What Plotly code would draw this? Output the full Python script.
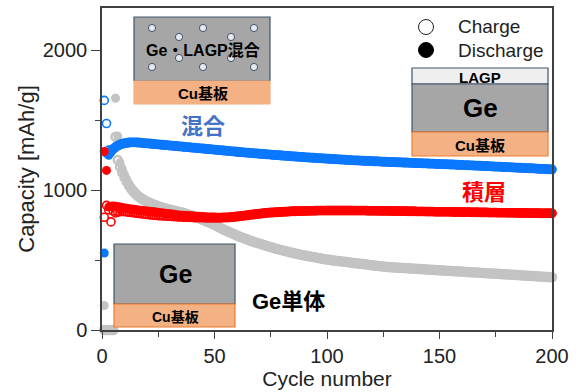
import plotly.graph_objects as go

# ---------------- data: capacity [mAh/g] per cycle ----------------
cycles = list(range(1, 201))

# Ge / LAGP mixed electrode (blue)
mix_discharge = [
    550, 1262, 1248, 1270, 1288, 1302, 1313, 1321, 1327, 1331,
    1334, 1336, 1338, 1337, 1338, 1336, 1335, 1333, 1332, 1330,
    1329, 1327, 1326, 1324, 1323, 1321, 1320, 1318, 1317, 1315,
    1314, 1312, 1311, 1309, 1308, 1306, 1305, 1303, 1302, 1300,
    1299, 1297, 1296, 1294, 1293, 1291, 1290, 1288, 1287, 1285,
    1284, 1282, 1281, 1279, 1278, 1276, 1275, 1273, 1272, 1270,
    1269, 1267, 1266, 1264, 1263, 1262, 1260, 1259, 1258, 1256,
    1255, 1254, 1252, 1251, 1250, 1248, 1247, 1246, 1245, 1243,
    1242, 1241, 1240, 1238, 1237, 1236, 1235, 1234, 1233, 1231,
    1230, 1229, 1228, 1227, 1226, 1225, 1224, 1223, 1222, 1221,
    1220, 1219, 1218, 1217, 1216, 1215, 1214, 1213, 1212, 1211,
    1210, 1209, 1209, 1208, 1207, 1206, 1205, 1205, 1204, 1203,
    1202, 1202, 1201, 1200, 1199, 1199, 1198, 1197, 1197, 1196,
    1195, 1195, 1194, 1193, 1193, 1192, 1191, 1191, 1190, 1189,
    1189, 1188, 1187, 1187, 1186, 1185, 1185, 1184, 1183, 1183,
    1182, 1181, 1181, 1180, 1179, 1179, 1178, 1177, 1176, 1176,
    1175, 1174, 1174, 1173, 1172, 1171, 1171, 1170, 1169, 1168,
    1168, 1167, 1166, 1165, 1164, 1164, 1163, 1162, 1161, 1160,
    1160, 1159, 1158, 1157, 1156, 1156, 1155, 1154, 1153, 1152,
    1152, 1151, 1150, 1149, 1148, 1148, 1147, 1146, 1145, 1144,
]
mix_charge = [
    1640, 1475, 1285, 1281, 1295, 1308, 1318, 1326, 1331, 1335,
    1338, 1340, 1341, 1341, 1341, 1340, 1339, 1337, 1336, 1334,
    1333, 1331, 1330, 1328, 1327, 1325, 1324, 1322, 1321, 1319,
    1318, 1316, 1315, 1313, 1312, 1310, 1309, 1307, 1306, 1304,
    1303, 1301, 1300, 1298, 1297, 1295, 1294, 1292, 1291, 1289,
    1288, 1286, 1285, 1283, 1282, 1280, 1279, 1277, 1276, 1274,
    1273, 1271, 1270, 1268, 1267, 1266, 1264, 1263, 1262, 1260,
    1259, 1258, 1256, 1255, 1254, 1252, 1251, 1250, 1249, 1247,
    1246, 1245, 1244, 1242, 1241, 1240, 1239, 1238, 1237, 1235,
    1234, 1233, 1232, 1231, 1230, 1229, 1228, 1227, 1226, 1225,
    1224, 1223, 1222, 1221, 1220, 1219, 1218, 1217, 1216, 1215,
    1214, 1213, 1213, 1212, 1211, 1210, 1209, 1209, 1208, 1207,
    1206, 1206, 1205, 1204, 1203, 1203, 1202, 1201, 1201, 1200,
    1199, 1199, 1198, 1197, 1197, 1196, 1195, 1195, 1194, 1193,
    1193, 1192, 1191, 1191, 1190, 1189, 1189, 1188, 1187, 1187,
    1186, 1185, 1185, 1184, 1183, 1183, 1182, 1181, 1180, 1180,
    1179, 1178, 1178, 1177, 1176, 1175, 1175, 1174, 1173, 1172,
    1172, 1171, 1170, 1169, 1168, 1168, 1167, 1166, 1165, 1164,
    1164, 1163, 1162, 1161, 1160, 1160, 1159, 1158, 1157, 1156,
    1156, 1155, 1154, 1153, 1152, 1152, 1151, 1150, 1149, 1148,
]

# LAGP / Ge layered electrode (red)
layer_discharge = [
    1275, 1140, 878, 884, 886, 884, 881, 878, 875, 872,
    869, 866, 864, 862, 860, 858, 856, 854, 852, 850,
    848, 846, 844, 842, 840, 838, 836, 834, 832, 830,
    828, 826, 824, 822, 820, 819, 818, 817, 816, 815,
    814, 813, 812, 811, 810, 809, 808, 808, 807, 807,
    806, 806, 806, 807, 807, 808, 809, 810, 812, 814,
    816, 818, 820, 822, 824, 826, 828, 830, 832, 834,
    836, 838, 840, 841, 842, 843, 844, 845, 846, 847,
    848, 849, 850, 850, 851, 851, 852, 852, 853, 853,
    853, 854, 854, 854, 855, 855, 855, 855, 856, 856,
    856, 856, 856, 856, 856, 856, 856, 856, 856, 856,
    856, 856, 855, 855, 855, 855, 855, 855, 854, 854,
    854, 854, 854, 853, 853, 853, 853, 852, 852, 852,
    852, 851, 851, 851, 851, 850, 850, 850, 850, 849,
    849, 849, 849, 848, 848, 848, 848, 847, 847, 847,
    847, 846, 846, 846, 846, 845, 845, 845, 845, 844,
    844, 844, 844, 843, 843, 843, 843, 842, 842, 842,
    842, 841, 841, 841, 841, 840, 840, 840, 840, 839,
    839, 839, 839, 839, 838, 838, 838, 838, 838, 837,
    837, 837, 837, 837, 836, 836, 836, 836, 836, 836,
]
layer_charge = [
    805, 890, 858, 772, 850, 836, 842, 845, 846, 845,
    843, 841, 839, 837, 835, 833, 831, 829, 827, 825,
    823, 821, 820, 818, 817, 816, 815, 814, 813, 812,
    811, 810, 809, 808, 807, 806, 805, 805, 804, 804,
    803, 803, 802, 802, 802, 801, 801, 801, 801, 801,
    801, 801, 801, 802, 802, 803, 804, 805, 807, 809,
    811, 813, 815, 817, 819, 821, 823, 825, 827, 829,
    831, 833, 835, 836, 837, 838, 839, 840, 841, 842,
    843, 844, 845, 846, 847, 847, 848, 848, 849, 849,
    850, 850, 851, 851, 851, 852, 852, 852, 852, 853,
    853, 853, 853, 853, 853, 853, 853, 853, 853, 853,
    853, 852, 852, 852, 852, 852, 852, 851, 851, 851,
    851, 851, 850, 850, 850, 850, 850, 849, 849, 849,
    849, 848, 848, 848, 848, 847, 847, 847, 847, 846,
    846, 846, 846, 845, 845, 845, 845, 844, 844, 844,
    844, 843, 843, 843, 843, 842, 842, 842, 842, 841,
    841, 841, 841, 840, 840, 840, 840, 839, 839, 839,
    839, 838, 838, 838, 838, 837, 837, 837, 837, 836,
    836, 836, 836, 836, 835, 835, 835, 835, 835, 834,
    834, 834, 834, 834, 833, 833, 833, 833, 833, 833,
]

# Ge only electrode (grey)
ge_discharge = [
    175, 0, 0, 0, 0, 1655, 1385, 1195, 1150, 1110,
    1075, 1045, 1020, 998, 980, 965, 952, 941, 931, 922,
    914, 907, 900, 894, 888, 883, 878, 873, 868, 864,
    860, 856, 852, 848, 844, 840, 835, 830, 825, 820,
    814, 808, 802, 796, 789, 782, 775, 768, 761, 754,
    745, 737, 729, 721, 713, 706, 699, 692, 685, 678,
    671, 665, 659, 653, 647, 641, 635, 629, 624, 619,
    614, 609, 604, 599, 594, 589, 584, 579, 575, 571,
    567, 563, 559, 555, 551, 547, 543, 540, 537, 534,
    531, 528, 525, 522, 519, 516, 513, 510, 507, 504,
    502, 500, 498, 496, 494, 492, 490, 488, 486, 484,
    482, 480, 478, 476, 474, 472, 470, 468, 466, 464,
    462, 460, 458, 456, 454, 452, 451, 450, 449, 448,
    447, 446, 445, 444, 443, 442, 441, 440, 439, 438,
    437, 436, 435, 434, 433, 432, 431, 430, 429, 428,
    427, 426, 425, 424, 423, 422, 421, 420, 419, 418,
    417, 416, 415, 414, 413, 412, 411, 410, 409, 408,
    407, 406, 405, 404, 403, 402, 401, 400, 399, 398,
    397, 396, 395, 394, 393, 392, 391, 390, 389, 388,
    387, 386, 385, 384, 383, 382, 381, 380, 379, 378,
]
ge_charge = [
    0, 0, 0, 0, 0, 1380, 1215, 1165, 1125, 1090,
    1058, 1030, 1007, 987, 970, 956, 944, 933, 924, 916,
    908, 901, 895, 889, 884, 879, 874, 869, 865, 861,
    857, 853, 849, 845, 841, 837, 832, 827, 822, 817,
    811, 805, 799, 793, 786, 779, 772, 765, 758, 751,
    742, 734, 726, 718, 710, 703, 696, 689, 682, 675,
    668, 662, 656, 650, 644, 638, 632, 627, 622, 617,
    612, 607, 602, 597, 592, 587, 582, 578, 574, 570,
    566, 562, 558, 554, 550, 546, 542, 539, 536, 533,
    530, 527, 524, 521, 518, 515, 512, 509, 506, 503,
    501, 499, 497, 495, 493, 491, 489, 487, 485, 483,
    481, 479, 477, 475, 473, 471, 469, 467, 465, 463,
    461, 459, 457, 455, 453, 451, 450, 449, 448, 447,
    446, 445, 444, 443, 442, 441, 440, 439, 438, 437,
    436, 435, 434, 433, 432, 431, 430, 429, 428, 427,
    426, 425, 424, 423, 422, 421, 420, 419, 418, 417,
    416, 415, 414, 413, 412, 411, 410, 409, 408, 407,
    406, 405, 404, 403, 402, 401, 400, 399, 398, 397,
    396, 395, 394, 393, 392, 391, 390, 389, 388, 387,
    386, 385, 384, 383, 382, 381, 380, 379, 378, 377,
]

x_ticks = [0, 50, 100, 150, 200]
y_ticks = [0, 1000, 2000]

BLUE = "#0a78ff"
RED = "#ff0000"
GREY = "#c3c3c3"
LABEL_BLUE = "#4472c4"
FONT = "Liberation Sans, Arial, Noto Sans CJK JP, sans-serif"
JFONT = "Liberation Sans, Noto Sans CJK JP, sans-serif"

W, H = 582, 392
L, R, T, B = 102, 552, 8, 330   # plot-area edges in pixels


def px(x):
    return (x - L) / (R - L)


def py(y):
    return (B - y) / (B - T)


fig = go.Figure()


def add_pair(charge, discharge, color, open_width):
    fig.add_trace(go.Scatter(
        x=cycles, y=charge, mode="markers", showlegend=False, cliponaxis=False,
        marker=dict(symbol="circle-open", size=8, color=color, line=dict(width=open_width, color=color)),
    ))
    fig.add_trace(go.Scatter(
        x=cycles, y=discharge, mode="markers", showlegend=False, cliponaxis=False,
        marker=dict(symbol="circle", size=9, color=color, line=dict(width=0)),
    ))


add_pair(ge_charge, ge_discharge, GREY, 2.5)
add_pair(mix_charge, mix_discharge, BLUE, 1.6)
add_pair(layer_charge, layer_discharge, RED, 1.6)

shapes = []


def rect(x0, y0, x1, y1, fill, line):
    shapes.append(dict(type="rect", xref="paper", yref="paper", layer="above",
                       x0=px(x0), x1=px(x1), y0=py(y1), y1=py(y0),
                       fillcolor=fill, line=dict(color=line, width=1.2)))


def dot(cx, cy, r, fill, line, lw=1.2):
    shapes.append(dict(type="circle", xref="paper", yref="paper", layer="above",
                       xsizemode="pixel", ysizemode="pixel",
                       xanchor=px(cx), yanchor=py(cy),
                       x0=-r, x1=r, y0=-r, y1=r,
                       fillcolor=fill, line=dict(color=line, width=lw)))


GE_FILL, GE_LINE = "#a6a6a6", "#44546a"
CU_FILL, CU_LINE = "#f4b183", "#ed7d31"

# mixed electrode schematic
rect(134, 17, 270, 81, GE_FILL, GE_LINE)
rect(134, 81, 270, 104, CU_FILL, CU_FILL)
for cx, cy in [(152, 28), (203, 28), (254, 28), (179, 37), (231, 37),
               (179, 58), (231, 58), (152, 67), (203, 67), (254, 67)]:
    dot(cx, cy, 3.6, "#e6e9ef", "#44546a", 1.0)

# layered electrode schematic
rect(412, 68, 548, 84, "#efefef", GE_LINE)
rect(412, 84, 548, 132, GE_FILL, GE_LINE)
rect(412, 132, 548, 156, CU_FILL, CU_LINE)

# Ge only schematic
rect(114, 244, 235, 304, GE_FILL, GE_LINE)
rect(114, 304, 235, 327, CU_FILL, CU_LINE)

# legend symbols
dot(426, 27, 7.5, "white", "#222222", 1.0)
dot(426, 50, 7.5, "black", "black", 1.0)

annotations = []


def label(x, y, text, size, color="black", bold=True, xanchor="center", font=JFONT):
    annotations.append(dict(
        xref="paper", yref="paper", x=px(x), y=py(y), xanchor=xanchor, yanchor="middle",
        text=f"<b>{text}</b>" if bold else text, showarrow=False,
        font=dict(size=size, color=color, family=font)))


label(203, 50, "Ge・LAGP混合", 16)
label(203, 93, "Cu基板", 15)
label(203, 126, "混合", 22, LABEL_BLUE)
label(480, 77, "LAGP", 15)
label(480, 108, "Ge", 26)
label(480, 145, "Cu基板", 15)
label(484, 192, "積層", 22, RED)
label(175, 274, "Ge", 25)
label(175, 317, "Cu基板", 14)
label(288, 301, "Ge単体", 22)
label(456, 27, "Charge", 19, "#222222", bold=False, xanchor="left", font=FONT)
label(456, 50, "Discharge", 19, "#222222", bold=False, xanchor="left", font=FONT)

axis_common = dict(
    showline=True, linecolor="#404040", linewidth=1.5, mirror=True,
    ticks="outside", tickwidth=1.3, tickcolor="#404040",
    showgrid=False, zeroline=False, automargin=False,
    tickfont=dict(size=20, color="#222222", family=FONT),
)

fig.update_layout(
    width=W, height=H, autosize=False,
    margin=dict(l=L, r=W - R, t=T, b=H - B),
    paper_bgcolor="white", plot_bgcolor="white",
    showlegend=False,
    shapes=shapes, annotations=annotations,
    xaxis=dict(range=[0, 200], tickmode="array", tickvals=x_ticks, ticklen=7,
               minor=dict(dtick=25, ticks="outside", ticklen=5, tickcolor="#404040"),
               title=dict(text="Cycle number", font=dict(size=21, color="#222222", family=FONT), standoff=4),
               **axis_common),
    yaxis=dict(range=[0, 2300], tickmode="array", tickvals=y_ticks, ticklen=9,
               minor=dict(dtick=500, ticks="outside", ticklen=5, tickcolor="#404040"),
               title=dict(text="Capacity [mAh/g]", font=dict(size=22, color="#222222", family=FONT), standoff=2),
               **axis_common),
)

fig.write_html("out.html")
